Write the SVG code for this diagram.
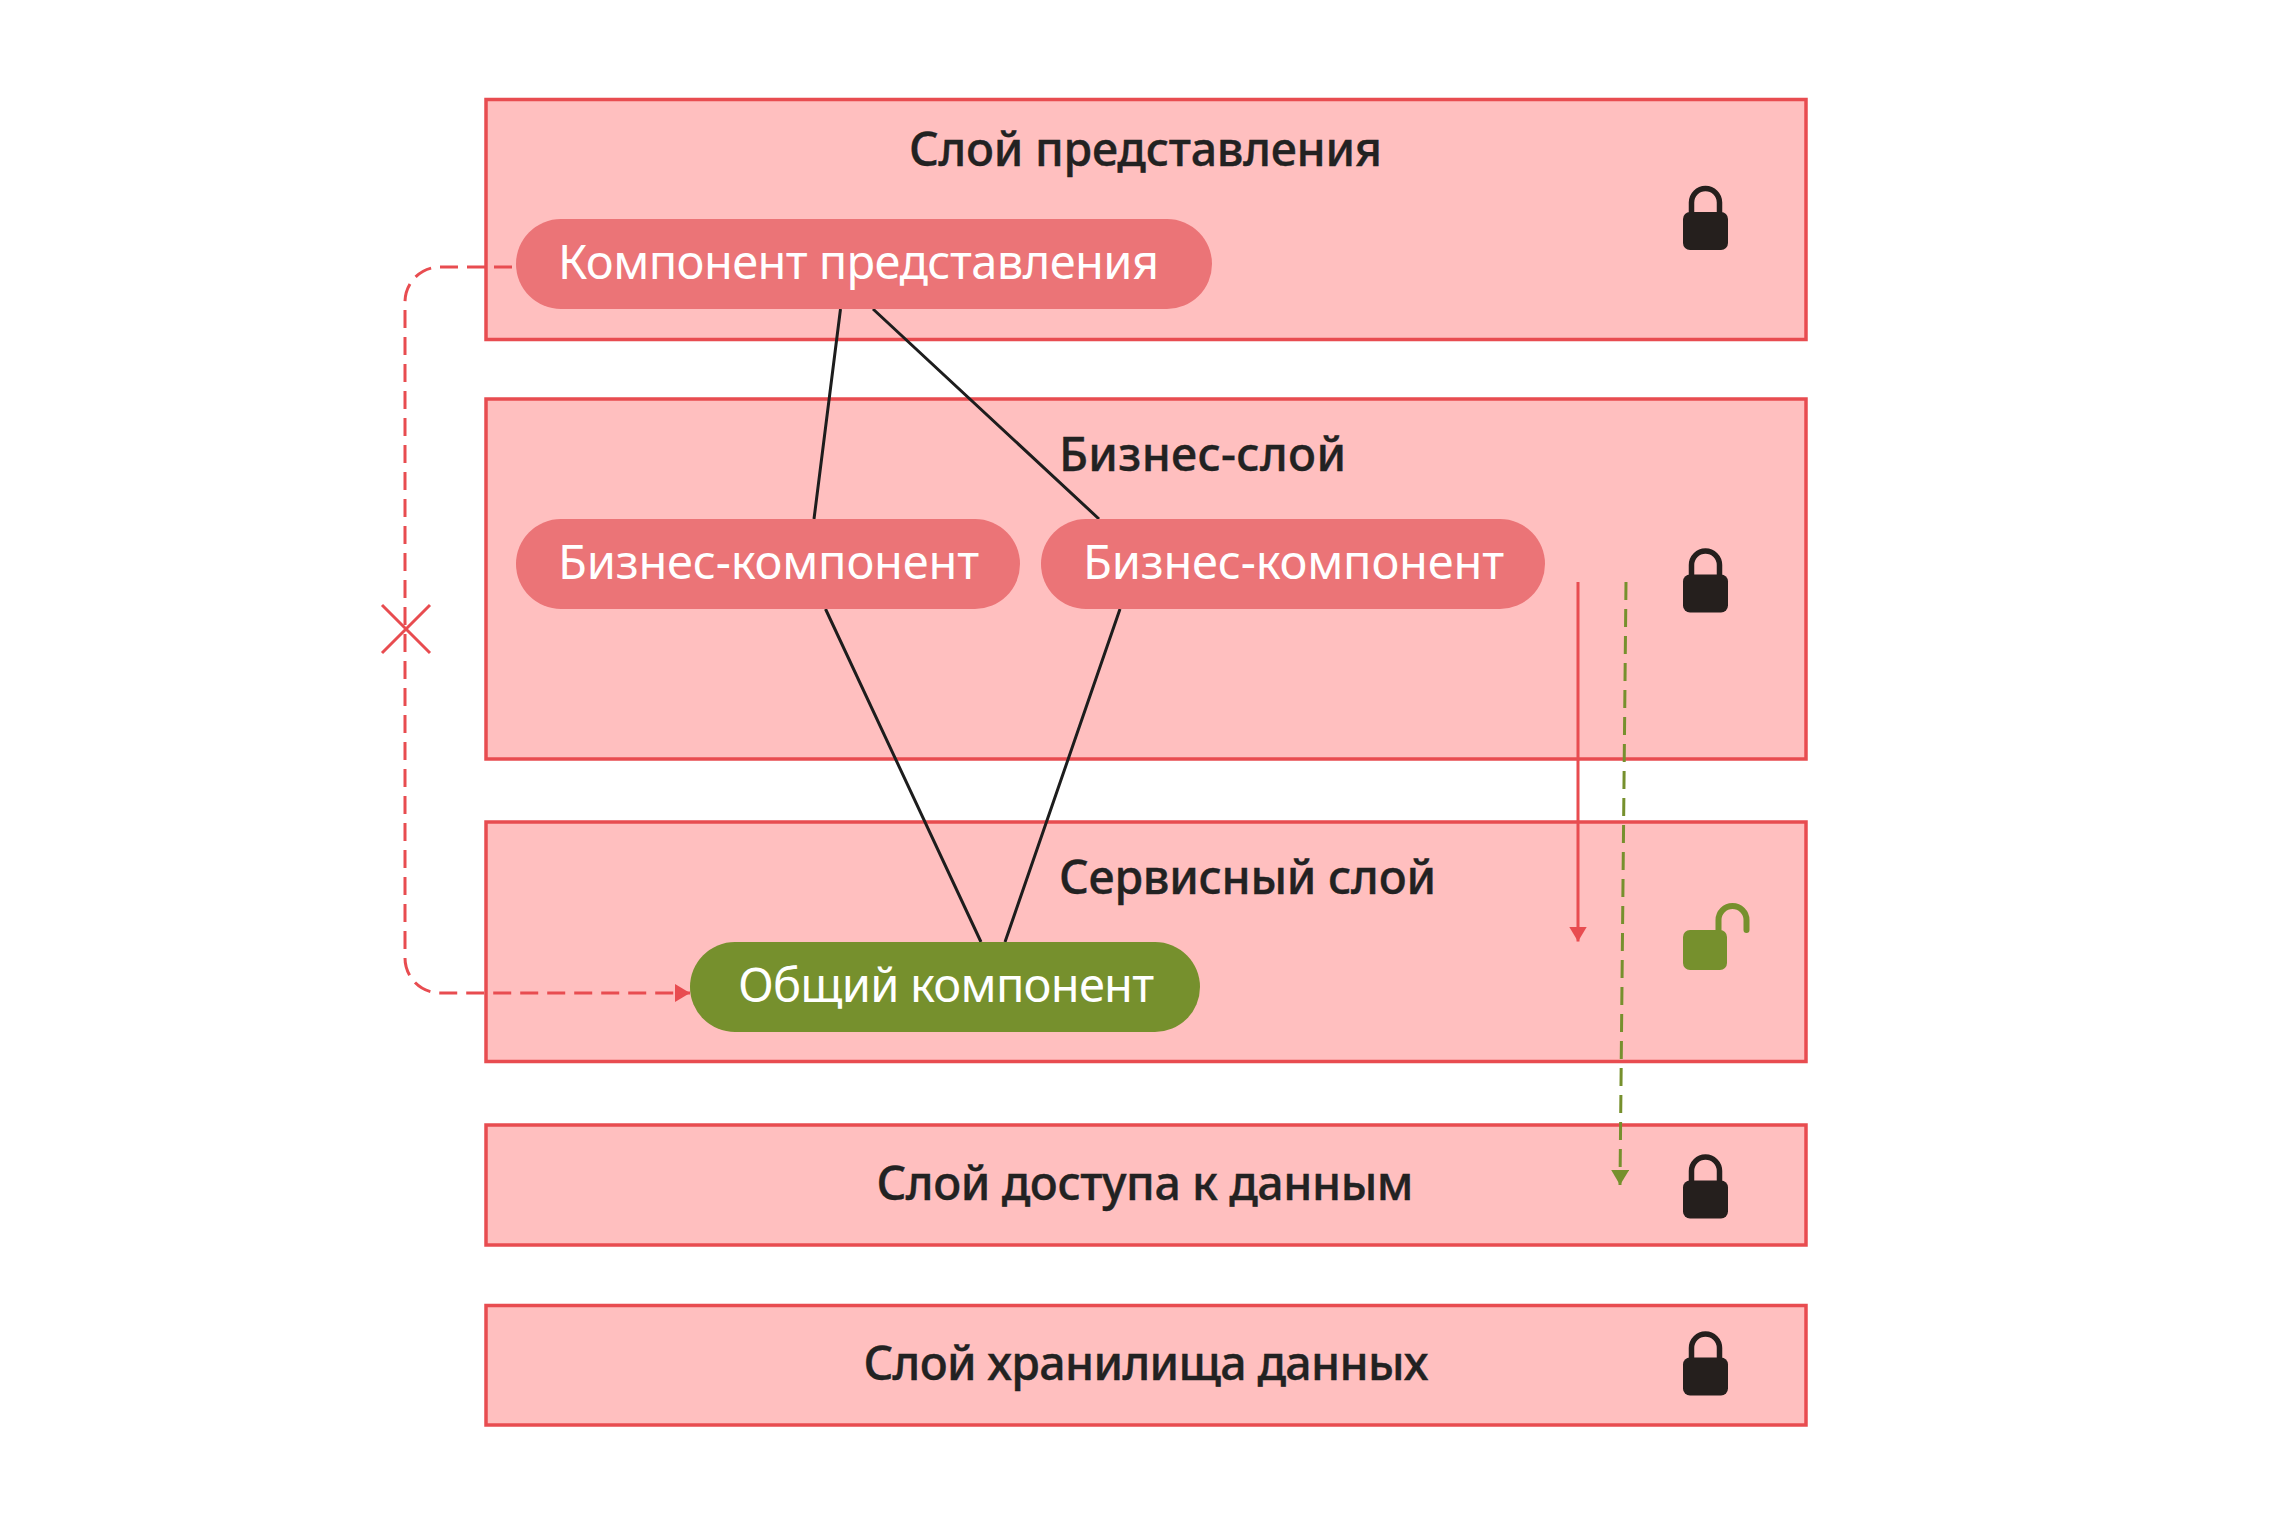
<svg xmlns="http://www.w3.org/2000/svg" width="2292" height="1527" viewBox="0 0 2292 1527">
<style>
.layer{fill:#ffbfbf;stroke:#e84c50;stroke-width:3.500}
.title{font:500 46.500px "Noto Sans","Liberation Sans",sans-serif;fill:#222;stroke:#222;stroke-width:.4}
.pilltext{font:400 47px "Noto Sans","Liberation Sans",sans-serif;fill:#fff}
.lock{fill:#251f1d}
.shackle{fill:none;stroke:#251f1d;stroke-width:5.500}
.link{stroke:#1d1d1d;stroke-width:3;fill:none}
.pill{fill:#eb7477}
.green{fill:#76902d}
</style>
<defs>
<marker id="hr" markerUnits="userSpaceOnUse" markerWidth="16" markerHeight="18" refX="15" refY="9" orient="auto"><path d="M0 0L15 9L0 18Z" fill="#e84c50"/></marker>
<marker id="hg" markerUnits="userSpaceOnUse" markerWidth="16" markerHeight="18" refX="15" refY="9" orient="auto"><path d="M0 0L15 9L0 18Z" fill="#76902d"/></marker>
<g id="closed"><path class="shackle" d="M1691.500 214V202.500a14 14 0 0 1 28 0V214"/><rect class="lock" x="1683" y="212" width="45" height="38" rx="7"/></g>
</defs>
<rect width="2292" height="1527" fill="#fff"/>
<g id="layer-presentation"><rect class="layer" x="486" y="99.500" width="1320" height="240"/><text class="title" x="909" y="166" textLength="473">Слой представления</text><use href="#closed"/></g>
<g id="layer-business"><rect class="layer" x="486" y="399" width="1320" height="360"/><text class="title" x="1059" y="470.500" textLength="287">Бизнес-слой</text><use href="#closed" y="362.500"/></g>
<g id="layer-service"><rect class="layer" x="486" y="822" width="1320" height="239.500"/><text class="title" x="1059" y="893.500" textLength="377">Сервисный слой</text>
<path d="M1718.500 932V920a14 14 0 0 1 28 0V930" fill="none" stroke="#76902d" stroke-width="6" stroke-linecap="round"/><rect class="green" x="1683" y="930" width="44" height="40" rx="7"/></g>
<g id="layer-data"><rect class="layer" x="486" y="1125" width="1320" height="120"/><text class="title" x="876.500" y="1200" textLength="537">Слой доступа к данным</text><use href="#closed" y="968.500"/></g>
<g id="layer-storage"><rect class="layer" x="486" y="1305.500" width="1320" height="119.500"/><text class="title" x="863.500" y="1380" textLength="565">Слой хранилища данных</text><use href="#closed" y="1145.500"/></g>
<g id="connectors">
<path class="link" d="M840.500 309L814 519M873 309L1099 519M825.500 609L981 942M1120 609L1005 942"/>
<path d="M512 267H440a35 35 0 0 0 -35 35V958a35 35 0 0 0 35 35H690" fill="none" stroke="#e84c50" stroke-width="3" stroke-dasharray="18 9" marker-end="url(#hr)"/>
<path d="M382 605L430 653M430 605L382 653" stroke="#e84c50" stroke-width="3" fill="none"/>
<path d="M1578 582V941.500" stroke="#e84c50" stroke-width="3" fill="none" marker-end="url(#hr)"/>
<path d="M1626 582L1620 1185" stroke="#76902d" stroke-width="3" stroke-dasharray="18 9" fill="none" marker-end="url(#hg)"/>
</g>
<g id="pill-presentation"><rect class="pill" x="516" y="219" width="696" height="90" rx="45"/><text class="pilltext" x="558" y="279" textLength="601">Компонент представления</text></g>
<g id="pill-business-1"><rect class="pill" x="516" y="519" width="504" height="90" rx="45"/><text class="pilltext" x="558" y="579" textLength="421">Бизнес-компонент</text></g>
<g id="pill-business-2"><rect class="pill" x="1041" y="519" width="504" height="90" rx="45"/><text class="pilltext" x="1083" y="579" textLength="421">Бизнес-компонент</text></g>
<g id="pill-common"><rect class="green" x="690" y="942" width="510" height="90" rx="45"/><text class="pilltext" x="738" y="1002" textLength="416">Общий компонент</text></g>
</svg>
